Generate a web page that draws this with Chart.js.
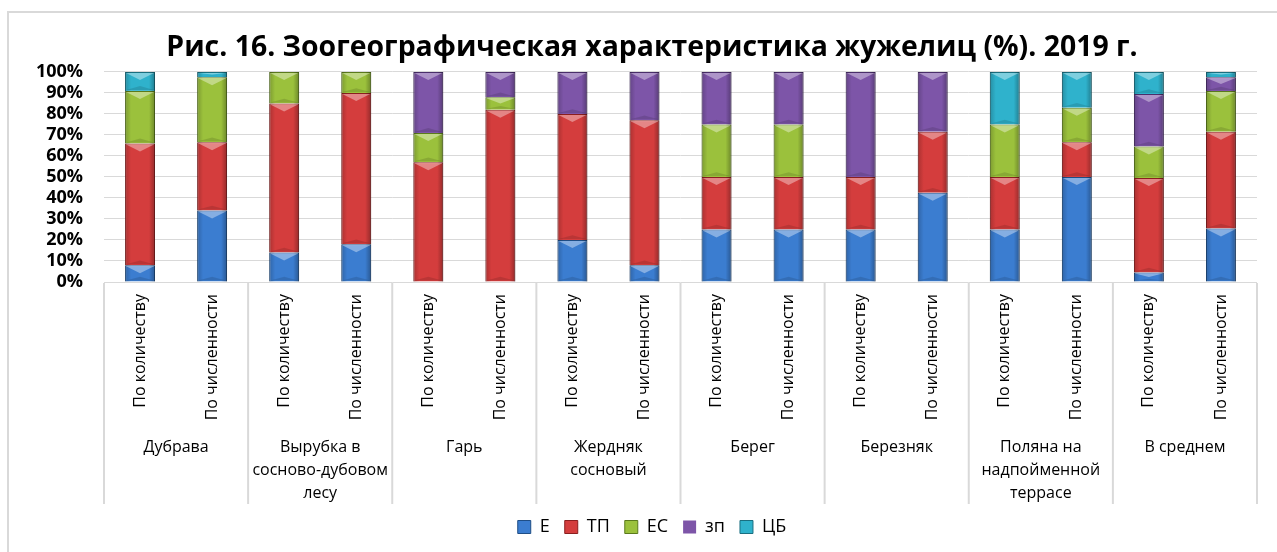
<!DOCTYPE html>
<html lang="ru">
<head>
<meta charset="utf-8">
<title>Зоогеографическая характеристика жужелиц</title>
<script src="https://cdn.jsdelivr.net/npm/chart.js@4/dist/chart.umd.min.js"></script>
<style>
    html, body { margin: 0; padding: 0; background: #ffffff; overflow: hidden; }
    #chart-container { position: relative; width: 1277px; height: 552px; }
</style>
</head>
<body>
<div id="chart-container">
    <canvas id="zoogeo-chart"></canvas>
</div>
<script>
// Chart data (percent)
const groups = [
    ['Дубрава'],
    ['Вырубка в', 'сосново-дубовом', 'лесу'],
    ['Гарь'],
    ['Жердняк', 'сосновый'],
    ['Берег'],
    ['Березняк'],
    ['Поляна на', 'надпойменной', 'террасе'],
    ['В среднем']
];
const subLabels = [
    'По количеству', 'По численности', 'По количеству', 'По численности',
    'По количеству', 'По численности', 'По количеству', 'По численности',
    'По количеству', 'По численности', 'По количеству', 'По численности',
    'По количеству', 'По численности', 'По количеству', 'По численности'
];
const seriesE  = [8, 34, 14, 18, 0, 0, 20, 8, 25, 25, 25, 42.5, 25, 50, 4.5, 25.5];
const seriesTP = [58, 32.5, 71, 72, 57, 82, 60, 69, 25, 25, 25, 29, 25, 16.5, 45, 46];
const seriesES = [25, 31, 15, 10, 14, 6, 0, 0, 25, 25, 0, 0, 25, 16.5, 15, 19.5];
const seriesZP = [0, 0, 0, 0, 29, 12, 20, 23, 25, 25, 50, 28.5, 0, 0, 25, 6.5];
const seriesCB = [9, 2.5, 0, 0, 0, 0, 0, 0, 0, 0, 0, 0, 25, 17, 10.5, 2.5];
const yTicks = [0, 10, 20, 30, 40, 50, 60, 70, 80, 90, 100];

Chart.defaults.font.family = "'Open Sans', sans-serif";
Chart.defaults.color = '#000000';

// Outer frame of the chart
const framePlugin = {
    id: 'frame',
    beforeDraw(chart) {
        const ctx = chart.ctx;
        ctx.save();
        ctx.strokeStyle = '#d9d9d9';
        ctx.lineWidth = 2;
        ctx.strokeRect(8, 12, 1400, 700);
        ctx.restore();
    }
};

// Excel-like bevel on each bar segment
const bevelPlugin = {
    id: 'bevel',
    afterDatasetsDraw(chart) {
        const ctx = chart.ctx;
        chart.data.datasets.forEach((ds, i) => {
            const meta = chart.getDatasetMeta(i);
            meta.data.forEach((bar, j) => {
                if (!ds.data[j]) return;
                const x0 = bar.x - bar.width / 2;
                const x1 = bar.x + bar.width / 2;
                const top = Math.min(bar.y, bar.base);
                const bottom = Math.max(bar.y, bar.base);
                const h = bottom - top;
                const b = Math.min(8, h / 2);
                ctx.save();
                const g = ctx.createLinearGradient(x0, 0, x1, 0);
                g.addColorStop(0, 'rgba(0,0,0,0.2)');
                g.addColorStop(0.2, 'rgba(0,0,0,0)');
                g.addColorStop(0.8, 'rgba(0,0,0,0)');
                g.addColorStop(1, 'rgba(0,0,0,0.3)');
                ctx.fillStyle = g;
                ctx.fillRect(x0, top, x1 - x0, h);
                ctx.fillStyle = 'rgba(255,255,255,0.38)';
                ctx.beginPath();
                ctx.moveTo(x0 + 1, top + 1);
                ctx.lineTo(x1 - 1, top + 1);
                ctx.lineTo(bar.x, top + b);
                ctx.closePath();
                ctx.fill();
                ctx.fillStyle = 'rgba(0,0,0,0.12)';
                ctx.beginPath();
                ctx.moveTo(x0 + 1, bottom - 1);
                ctx.lineTo(x1 - 1, bottom - 1);
                ctx.lineTo(bar.x, bottom - b * 0.6);
                ctx.closePath();
                ctx.fill();
                ctx.restore();
            });
        });
    }
};

// Group separators under the category axis
const separatorPlugin = {
    id: 'separators',
    afterDraw(chart) {
        const ctx = chart.ctx;
        const xs = chart.scales.x;
        const n = groups.length;
        ctx.save();
        ctx.strokeStyle = '#d9d9d9';
        ctx.lineWidth = 2;
        for (let k = 0; k <= n; k++) {
            const px = xs.left + (xs.right - xs.left) * k / n;
            ctx.beginPath();
            ctx.moveTo(px, chart.chartArea.bottom + 1);
            ctx.lineTo(px, 504);
            ctx.stroke();
        }
        ctx.restore();
    }
};

function makeDataset(label, data, color, border) {
    return {
        label: label,
        data: data,
        backgroundColor: color,
        borderColor: border,
        borderWidth: ctx => (ctx.raw ? 1 : 0),
        categoryPercentage: 1,
        barPercentage: 0.415
    };
}

const ctx = document.getElementById('zoogeo-chart').getContext('2d');
new Chart(ctx, {
    type: 'bar',
    data: {
        labels: subLabels,
        datasets: [
            makeDataset('Е', seriesE, '#3b7dd0', '#1f4e86'),
            makeDataset('ТП', seriesTP, '#d43d3d', '#8a1f1f'),
            makeDataset('ЕС', seriesES, '#9bc13c', '#5b7a1c'),
            makeDataset('зп', seriesZP, '#7d55a8', '#4a2f6b'),
            makeDataset('ЦБ', seriesCB, '#2fb2cc', '#1a6f80')
        ]
    },
    options: {
        responsive: true,
        maintainAspectRatio: false,
        animation: false,
        layout: {
            padding: { top: 0, left: 27, right: 0, bottom: 6 }
        },
        scales: {
            x: {
                stacked: true,
                grid: { display: false, drawTicks: false },
                border: { display: false },
                ticks: {
                    autoSkip: false,
                    minRotation: 90,
                    maxRotation: 90,
                    padding: 12,
                    font: { size: 16 }
                },
                afterFit: scale => { scale.height = 140; }
            },
            x2: {
                type: 'category',
                axis: 'x',
                position: 'bottom',
                weight: 1,
                labels: groups,
                offset: true,
                grid: { display: false, drawTicks: false },
                border: { display: false },
                ticks: {
                    autoSkip: false,
                    maxRotation: 0,
                    padding: 14,
                    font: { size: 16, lineHeight: 1.44 }
                },
                afterFit: scale => { scale.height = 81; }
            },
            y: {
                stacked: true,
                min: 0,
                max: 100,
                border: { display: false },
                grid: { color: '#d9d9d9', lineWidth: 1, drawTicks: false },
                afterBuildTicks: scale => {
                    scale.ticks = yTicks.map(v => ({ value: v }));
                },
                ticks: {
                    autoSkip: false,
                    padding: 21,
                    font: { size: 18, weight: 'bold', lineHeight: 1.1 },
                    callback: value => value + '%'
                },
                afterFit: scale => { scale.width = 77; }
            },
            yRight: {
                type: 'linear',
                position: 'right',
                display: true,
                grid: { display: false, drawTicks: false },
                border: { display: false },
                ticks: { display: false },
                afterFit: scale => { scale.width = 20; }
            }
        },
        plugins: {
            title: {
                display: true,
                text: 'Рис. 16. Зоогеографическая характеристика жужелиц (%). 2019 г.',
                color: '#000000',
                padding: { top: 30.6, bottom: 7.3 },
                font: { size: 28.4, weight: 'bold', lineHeight: 1.2 }
            },
            legend: {
                position: 'bottom',
                labels: {
                    boxWidth: 13,
                    boxHeight: 13,
                    padding: 15,
                    font: { size: 18 }
                }
            },
            tooltip: { enabled: false }
        }
    },
    plugins: [framePlugin, bevelPlugin, separatorPlugin]
});
</script>
</body>
</html>
